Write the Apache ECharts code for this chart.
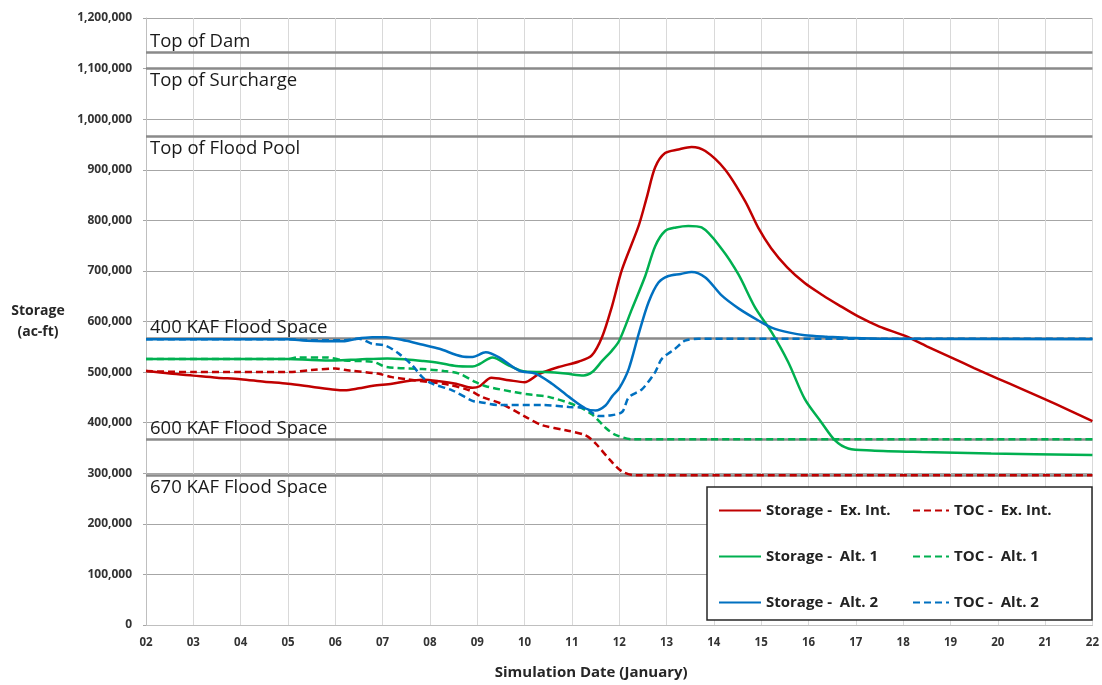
<!DOCTYPE html>
<html>
<head>
<meta charset="utf-8">
<script src="https://cdn.jsdelivr.net/npm/echarts@6/dist/echarts.min.js"></script>
<style>
html,body{margin:0;padding:0;background:#fff;}
#chart{width:1102px;height:685px;}
</style>
</head>
<body>
<div id="chart"></div>
<script>
// ---- data (x = day of January, y = storage in ac-ft) ----
var seriesNames = ['Storage -  Ex. Int.', 'TOC -  Ex. Int.', 'Storage -  Alt. 1', 'TOC -  Alt. 1', 'Storage -  Alt. 2', 'TOC -  Alt. 2'];

var storageExInt = [[2,502000],[2.5,497000],[3,493000],[3.5,489000],[4,486000],[4.5,481000],[5,477000],[5.5,471000],[6,465000],[6.2,464000],[6.5,468000],[6.8,473000],[7.2,477000],[7.5,482000],[7.85,485000],[8.2,482000],[8.55,477000],[8.9,469000],[9.05,472000],[9.3,489000],[9.67,484000],[10,480000],[10.3,496000],[10.72,510000],[11.15,521000],[11.42,533000],[11.64,570000],[11.85,631000],[12.06,703000],[12.41,789000],[12.59,848000],[12.76,905000],[12.97,933000],[13.25,940000],[13.53,945000],[13.82,937000],[14.24,900000],[14.66,838000],[14.94,785000],[15.21,745000],[15.55,707000],[15.92,676000],[16.3,652000],[16.63,633000],[17.05,610000],[17.5,590000],[18.03,572000],[18.5,551000],[19.01,529000],[19.5,508000],[20,487000],[20.5,467000],[20.98,447000],[21.5,425000],[22,403000]];

var tocExInt = [[2,502000],[3,500000],[4,500000],[5,500000],[5.5,504000],[6,507000],[6.3,503000],[6.9,497000],[7.2,490000],[7.5,486000],[8,480000],[8.4,475000],[8.83,464000],[9.1,451000],[9.52,437000],[10.03,411000],[10.37,395000],[10.87,385000],[11.29,375000],[11.5,359000],[11.78,329000],[12.05,304000],[12.35,296000],[22,296000]];

var storageAlt1 = [[2,526000],[5,526000],[5.5,524000],[6,523000],[6.5,525000],[7.1,527000],[7.5,525000],[7.84,522000],[8.2,518000],[8.55,512000],[8.9,511000],[9.05,516000],[9.32,529000],[9.67,513000],[10.02,501000],[10.44,500000],[10.87,497000],[11.25,493000],[11.43,500000],[11.64,522000],[11.85,543000],[12,562000],[12.27,625000],[12.55,690000],[12.76,749000],[12.97,779000],[13.2,786000],[13.46,789000],[13.74,786000],[14.17,743000],[14.52,693000],[14.87,628000],[15.22,579000],[15.57,520000],[15.92,447000],[16.27,401000],[16.56,365000],[16.84,349000],[17.33,345000],[18.39,342000],[19.86,339000],[22,336000]];

var tocAlt1 = [[2,526000],[5,526000],[5.2,529000],[5.8,529000],[6.2,523000],[6.8,520000],[7.08,510000],[7.84,506000],[8.3,502000],[8.62,497000],[8.97,480000],[9.18,472000],[9.81,460000],[10.16,455000],[10.51,451000],[11.08,434000],[11.43,416000],[11.71,390000],[11.92,376000],[12.3,367000],[22,367000]];

var storageAlt2 = [[2,565000],[5,565000],[5.4,562000],[6.2,561000],[6.45,566000],[6.78,569000],[7.07,569000],[7.5,562000],[7.8,555000],[8.2,546000],[8.68,531000],[8.9,530000],[9.18,539000],[9.46,529000],[9.88,503000],[10.23,497000],[10.58,477000],[10.94,451000],[11.29,428000],[11.5,424000],[11.71,434000],[11.85,452000],[12,468000],[12.2,506000],[12.41,575000],[12.62,638000],[12.83,677000],[13.04,690000],[13.3,694000],[13.53,698000],[13.82,687000],[14.17,651000],[14.52,626000],[14.94,602000],[15.22,588000],[15.6,578000],[15.92,573000],[16.4,570000],[16.84,568000],[17.5,566000],[22,565000]];

var tocAlt2 = [[2,565000],[5,565000],[5.5,563000],[6.2,563000],[6.5,566000],[6.78,556000],[7.07,552000],[7.35,536000],[7.63,513000],[7.84,490000],[8.05,477000],[8.47,464000],[8.9,443000],[9.04,441000],[9.46,435000],[10.37,435000],[10.94,431000],[11.29,428000],[11.57,413000],[11.78,414000],[12.06,421000],[12.2,450000],[12.48,466000],[12.76,500000],[12.9,526000],[13.18,546000],[13.39,562000],[13.67,566000],[22,566000]];

var refNames = ['Top of Dam', 'Top of Surcharge', 'Top of Flood Pool', '400 KAF Flood Space', '600 KAF Flood Space', '670 KAF Flood Space'];
var refValues = [1133000, 1100000, 967000, 567000, 367000, 297000];

var xMin = 2, xMax = 22;
var yMax = 1200000;

// ---- build chart ----
var FONT = '"Open Sans", Lato, sans-serif';
var colors = ['#C00000', '#C00000', '#00B050', '#00B050', '#0070C0', '#0070C0'];
var seriesData = [storageExInt, tocExInt, storageAlt1, tocAlt1, storageAlt2, tocAlt2];
var labelAbove = {'Top of Dam': true, '400 KAF Flood Space': true, '600 KAF Flood Space': true};

var series = seriesData.map(function (d, i) {
  return {
    name: seriesNames[i],
    type: 'line',
    data: d,
    symbol: 'none',
    smooth: 0.3,
    z: 3,
    lineStyle: {color: colors[i], width: 2.5, type: (i % 2 === 1) ? [7, 4] : 'solid'},
    itemStyle: {color: colors[i]}
  };
});

series.unshift({
  name: 'refs',
  type: 'line',
  data: [],
  z: 1,
  markLine: {
    silent: true,
    symbol: 'none',
    animation: false,
    z: 1,
    lineStyle: {color: '#8a8a8a', width: 2.5, type: 'solid'},
    data: refNames.map(function (n, i) {
      var above = !!labelAbove[n];
      return {
        yAxis: refValues[i],
        label: {
          show: true,
          formatter: n,
          position: above ? 'insideStartTop' : 'insideStartBottom',
          distance: [4, above ? 1 : 3],
          color: '#1a1a1a',
          fontSize: 18.5,
          fontFamily: FONT
        }
      };
    })
  }
});

var legendText = {fontFamily: FONT, fontWeight: 'bold', fontSize: 15, color: '#222'};

var option = {
  animation: false,
  backgroundColor: '#fff',
  grid: {left: 146, right: 7, top: 18, bottom: 58, containLabel: false},
  xAxis: {
    type: 'value', min: xMin, max: xMax, interval: 1,
    name: 'Simulation Date (January)',
    nameLocation: 'middle', nameGap: 40,
    nameTextStyle: {fontFamily: FONT, fontWeight: 'bold', fontSize: 15, color: '#262626', padding: [0, 56, 0, 0]},
    axisLine: {show: true, lineStyle: {color: '#bfbfbf', width: 1}},
    axisTick: {show: false},
    axisLabel: {
      fontFamily: FONT, fontWeight: 'bold', fontSize: 11.5, color: '#333', margin: 12,
      formatter: function (v) { return (v < 10 ? '0' : '') + v; }
    },
    splitLine: {show: true, lineStyle: {color: '#d9d9d9', width: 1}}
  },
  yAxis: {
    type: 'value', min: 0, max: yMax, interval: 100000,
    name: 'Storage\n(ac-ft)',
    nameLocation: 'middle', nameRotate: 0, nameGap: 108,
    nameTextStyle: {fontFamily: FONT, fontWeight: 'bold', fontSize: 14, color: '#262626', align: 'center', lineHeight: 21},
    axisLine: {show: true, lineStyle: {color: '#bfbfbf', width: 1}},
    axisTick: {show: true, length: 3, lineStyle: {color: '#a6a6a6'}},
    axisLabel: {
      fontFamily: FONT, fontWeight: 'bold', fontSize: 12, color: '#333', margin: 14,
      formatter: function (v) { return v.toLocaleString('en-US'); }
    },
    splitLine: {show: true, lineStyle: {color: '#a6a6a6', width: 1}}
  },
  graphic: [{
    type: 'rect', z: 20,
    shape: {x: 707, y: 487, width: 385, height: 133},
    style: {fill: '#fff', stroke: '#262626', lineWidth: 1.5}
  }],
  legend: [{
    orient: 'vertical', left: 718, top: 503, z: 30, padding: 0,
    itemWidth: 42, itemHeight: 14, itemGap: 31,
    itemStyle: {opacity: 0, borderWidth: 0},
    data: [seriesNames[0], seriesNames[2], seriesNames[4]],
    textStyle: legendText
  }, {
    orient: 'vertical', left: 912, top: 503, z: 30, padding: 0,
    itemWidth: 36, itemHeight: 14, itemGap: 31,
    itemStyle: {opacity: 0, borderWidth: 0},
    data: [seriesNames[1], seriesNames[3], seriesNames[5]],
    textStyle: legendText
  }],
  series: series
};

var chart = echarts.init(document.getElementById('chart'), null, {renderer: 'canvas'});
chart.setOption(option);
</script>
</body>
</html>
